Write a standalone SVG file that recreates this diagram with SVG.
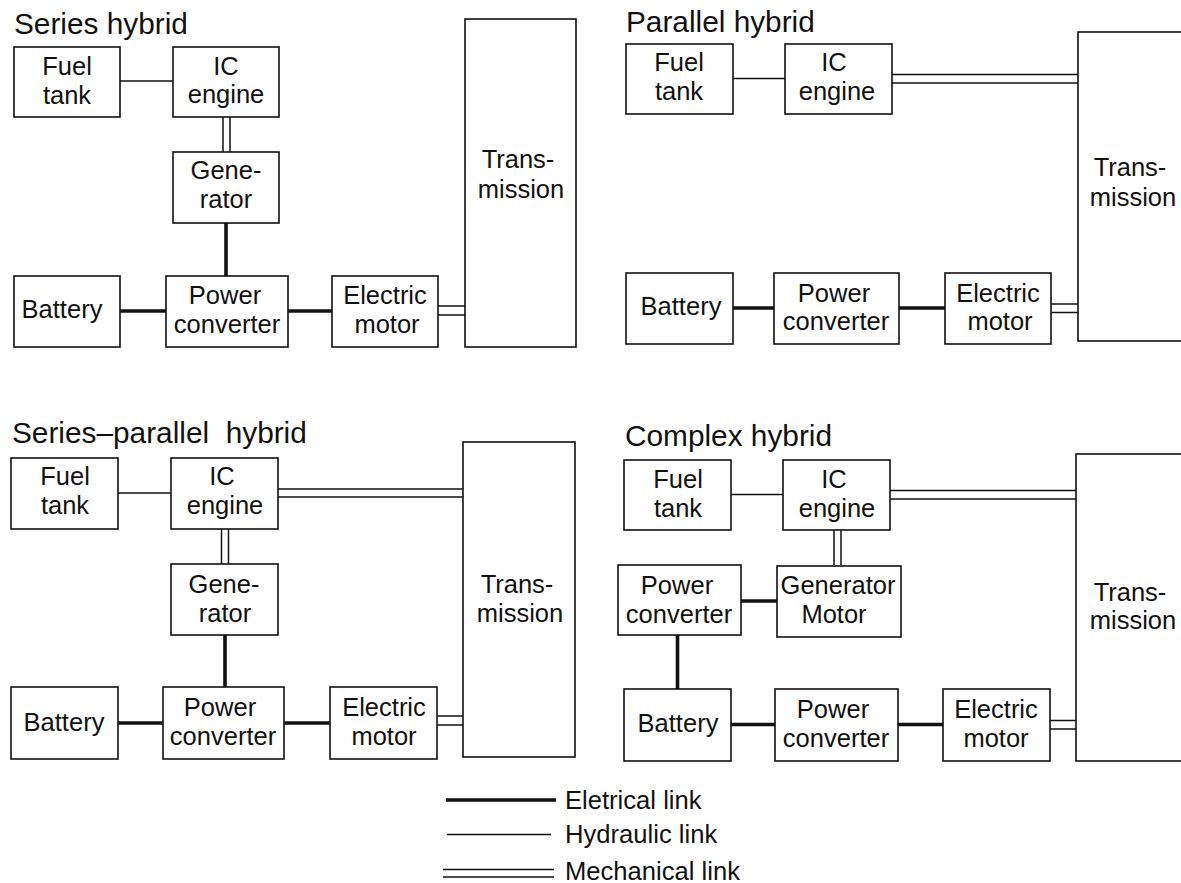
<svg xmlns="http://www.w3.org/2000/svg" width="1181" height="883" viewBox="0 0 1181 883">
<style>
.box{fill:#fff;stroke:#111;stroke-width:1.6}
.t{font-family:"Liberation Sans",Arial,sans-serif;font-size:25.5px;fill:#111;text-anchor:middle}
.title{font-family:"Liberation Sans",Arial,sans-serif;font-size:29.8px;fill:#111}
.leg{font-family:"Liberation Sans",Arial,sans-serif;font-size:25.6px;fill:#111}
.el{stroke:#111;stroke-width:3.6;fill:none}
.hy{stroke:#111;stroke-width:1.4;fill:none}
.me{stroke:#111;stroke-width:1.5;fill:none}
</style>
<rect width="1181" height="883" fill="#fff"/>

<!-- Connectors -->
<g id="connectors">
  <!-- Series hybrid -->
  <line class="hy" x1="120" y1="81" x2="173" y2="81"/>
  <line class="me" x1="223" y1="117" x2="223" y2="152"/>
  <line class="me" x1="230" y1="117" x2="230" y2="152"/>
  <line class="el" x1="226" y1="223" x2="226" y2="276"/>
  <line class="el" x1="120" y1="311" x2="166" y2="311"/>
  <line class="el" x1="288" y1="311" x2="332" y2="311"/>
  <line class="me" x1="438" y1="306" x2="465" y2="306"/>
  <line class="me" x1="438" y1="315" x2="465" y2="315"/>
  <!-- Parallel hybrid -->
  <line class="hy" x1="733" y1="78.5" x2="785" y2="78.5"/>
  <line class="me" x1="892" y1="74.5" x2="1078" y2="74.5"/>
  <line class="me" x1="892" y1="83" x2="1078" y2="83"/>
  <line class="el" x1="733" y1="308" x2="774" y2="308"/>
  <line class="el" x1="899" y1="308" x2="945" y2="308"/>
  <line class="me" x1="1051" y1="304" x2="1078" y2="304"/>
  <line class="me" x1="1051" y1="312.5" x2="1078" y2="312.5"/>
  <!-- Series-parallel hybrid -->
  <line class="hy" x1="118" y1="493" x2="171" y2="493"/>
  <line class="me" x1="278" y1="489" x2="463" y2="489"/>
  <line class="me" x1="278" y1="497" x2="463" y2="497"/>
  <line class="me" x1="221.5" y1="529" x2="221.5" y2="564"/>
  <line class="me" x1="228.5" y1="529" x2="228.5" y2="564"/>
  <line class="el" x1="225" y1="635" x2="225" y2="687"/>
  <line class="el" x1="118" y1="723" x2="163" y2="723"/>
  <line class="el" x1="284" y1="723" x2="330" y2="723"/>
  <line class="me" x1="437" y1="716" x2="463" y2="716"/>
  <line class="me" x1="437" y1="725" x2="463" y2="725"/>
  <!-- Complex hybrid -->
  <line class="hy" x1="731" y1="494.5" x2="783" y2="494.5"/>
  <line class="me" x1="890" y1="490.5" x2="1076" y2="490.5"/>
  <line class="me" x1="890" y1="499" x2="1076" y2="499"/>
  <line class="me" x1="834" y1="530" x2="834" y2="565"/>
  <line class="me" x1="841" y1="530" x2="841" y2="565"/>
  <line class="el" x1="741" y1="601" x2="777" y2="601"/>
  <line class="el" x1="677.5" y1="635" x2="677.5" y2="689"/>
  <line class="el" x1="731" y1="724.5" x2="775" y2="724.5"/>
  <line class="el" x1="898" y1="724.5" x2="943" y2="724.5"/>
  <line class="me" x1="1050" y1="720.5" x2="1076" y2="720.5"/>
  <line class="me" x1="1050" y1="729" x2="1076" y2="729"/>
</g>

<!-- Series hybrid -->
<text class="title" x="14" y="34">Series hybrid</text>
<g id="s-fuel"><rect class="box" x="14" y="47" width="106" height="70"/><text class="t" x="67" y="75">Fuel</text><text class="t" x="67" y="104">tank</text></g>
<g id="s-ice"><rect class="box" x="173" y="47" width="106" height="70"/><text class="t" x="226" y="75">IC</text><text class="t" x="226" y="103">engine</text></g>
<g id="s-gen"><rect class="box" x="173" y="152" width="106" height="71"/><text class="t" x="226" y="179">Gene-</text><text class="t" x="226" y="208">rator</text></g>
<g id="s-bat"><rect class="box" x="14" y="276" width="106" height="71"/><text class="t" x="62" y="318">Battery</text></g>
<g id="s-pc"><rect class="box" x="166" y="276" width="122" height="71"/><text class="t" x="225" y="304">Power</text><text class="t" x="227" y="333">converter</text></g>
<g id="s-em"><rect class="box" x="332" y="276" width="106" height="71"/><text class="t" x="385" y="304">Electric</text><text class="t" x="387" y="333">motor</text></g>
<g id="s-tr"><rect class="box" x="465" y="19" width="111" height="328"/><text class="t" x="518" y="168">Trans-</text><text class="t" x="521" y="198">mission</text></g>

<!-- Parallel hybrid -->
<text class="title" x="626" y="32">Parallel hybrid</text>
<g id="p-fuel"><rect class="box" x="626" y="44" width="107" height="70"/><text class="t" x="679" y="71">Fuel</text><text class="t" x="679" y="100">tank</text></g>
<g id="p-ice"><rect class="box" x="785" y="44" width="107" height="70"/><text class="t" x="834" y="71">IC</text><text class="t" x="837" y="100">engine</text></g>
<g id="p-bat"><rect class="box" x="626" y="273" width="107" height="71"/><text class="t" x="681" y="315">Battery</text></g>
<g id="p-pc"><rect class="box" x="774" y="273" width="125" height="71"/><text class="t" x="834" y="302">Power</text><text class="t" x="836" y="330">converter</text></g>
<g id="p-em"><rect class="box" x="945" y="273" width="106" height="71"/><text class="t" x="998" y="302">Electric</text><text class="t" x="1000" y="330">motor</text></g>
<g id="p-tr"><rect class="box" x="1078" y="32" width="111" height="309"/><text class="t" x="1130" y="176">Trans-</text><text class="t" x="1133" y="206">mission</text></g>

<!-- Series-parallel hybrid -->
<text class="title" x="12" y="443" xml:space="preserve">Series–parallel  hybrid</text>
<g id="sp-fuel"><rect class="box" x="11" y="458" width="107" height="71"/><text class="t" x="65" y="485">Fuel</text><text class="t" x="65" y="514">tank</text></g>
<g id="sp-ice"><rect class="box" x="171" y="458" width="107" height="71"/><text class="t" x="222" y="485">IC</text><text class="t" x="225" y="514">engine</text></g>
<g id="sp-gen"><rect class="box" x="171" y="564" width="107" height="71"/><text class="t" x="224" y="593">Gene-</text><text class="t" x="225" y="622">rator</text></g>
<g id="sp-bat"><rect class="box" x="11" y="687" width="107" height="72"/><text class="t" x="64" y="731">Battery</text></g>
<g id="sp-pc"><rect class="box" x="163" y="687" width="121" height="72"/><text class="t" x="220" y="716">Power</text><text class="t" x="223" y="745">converter</text></g>
<g id="sp-em"><rect class="box" x="330" y="687" width="107" height="72"/><text class="t" x="384" y="716">Electric</text><text class="t" x="384" y="745">motor</text></g>
<g id="sp-tr"><rect class="box" x="463" y="442" width="112" height="315"/><text class="t" x="517" y="593">Trans-</text><text class="t" x="520" y="622">mission</text></g>

<!-- Complex hybrid -->
<text class="title" x="625" y="446">Complex hybrid</text>
<g id="c-fuel"><rect class="box" x="624" y="460" width="107" height="70"/><text class="t" x="678" y="488">Fuel</text><text class="t" x="678" y="517">tank</text></g>
<g id="c-ice"><rect class="box" x="783" y="460" width="107" height="70"/><text class="t" x="834" y="488">IC</text><text class="t" x="837" y="517">engine</text></g>
<g id="c-pc1"><rect class="box" x="618" y="565" width="123" height="70"/><text class="t" x="677" y="594">Power</text><text class="t" x="679" y="623">converter</text></g>
<g id="c-gm"><rect class="box" x="777" y="566" width="124" height="71"/><text class="t" x="838" y="594">Generator</text><text class="t" x="834" y="623">Motor</text></g>
<g id="c-bat"><rect class="box" x="624" y="689" width="107" height="72"/><text class="t" x="678" y="732">Battery</text></g>
<g id="c-pc2"><rect class="box" x="775" y="689" width="123" height="72"/><text class="t" x="833" y="718">Power</text><text class="t" x="836" y="747">converter</text></g>
<g id="c-em"><rect class="box" x="943" y="689" width="107" height="72"/><text class="t" x="996" y="718">Electric</text><text class="t" x="996" y="747">motor</text></g>
<g id="c-tr"><rect class="box" x="1076" y="454" width="113" height="307"/><text class="t" x="1130" y="601">Trans-</text><text class="t" x="1133" y="629">mission</text></g>

<!-- Legend -->
<g id="legend">
  <line class="el" x1="446" y1="800" x2="556" y2="800"/>
  <line class="hy" x1="447" y1="834.5" x2="551" y2="834.5"/>
  <line class="me" x1="443" y1="869.5" x2="554" y2="869.5"/>
  <line class="me" x1="443" y1="877" x2="554" y2="877"/>
  <text class="leg" x="565" y="809">Eletrical link</text>
  <text class="leg" x="565" y="843">Hydraulic link</text>
  <text class="leg" x="565" y="880">Mechanical link</text>
</g>
</svg>
